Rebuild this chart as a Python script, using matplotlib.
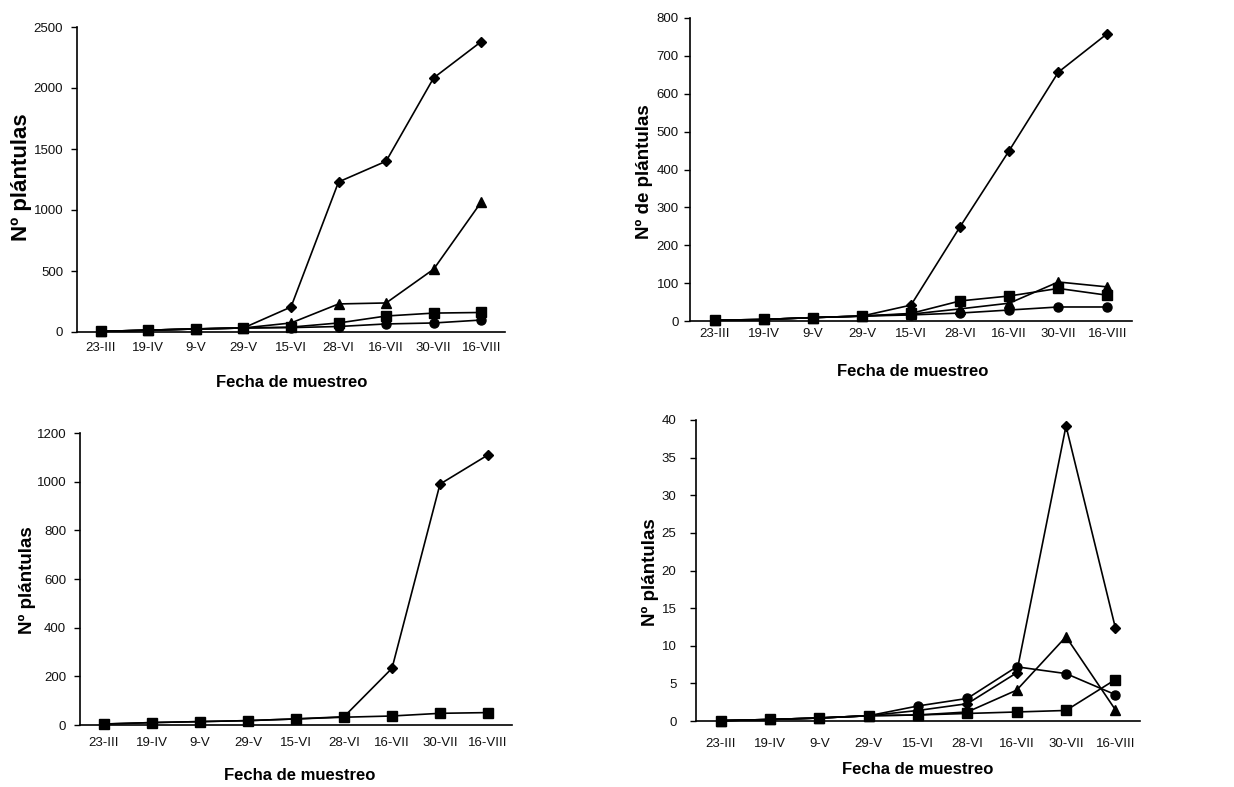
import matplotlib
matplotlib.use("Agg")
import matplotlib.pyplot as plt

plt.rcParams['font.family'] = ['Liberation Sans', 'DejaVu Sans']

fechas = ["23-III", "19-IV", "9-V", "29-V", "15-VI", "28-VI", "16-VII", "30-VII", "16-VIII"]

# Panel 1 (top-left)
p1_diamond  = [5, 15, 25, 33, 205, 1230, 1400, 2083, 2380]
p1_triangle = [5, 15, 25, 33, 74, 230, 238, 515, 1065]
p1_square   = [5, 15, 25, 33, 40, 74, 131, 155, 160]
p1_circle   = [5, 15, 25, 33, 36, 45, 66, 74, 98]

# Panel 2 (top-right)
p2_diamond  = [2, 4, 9, 13, 42, 249, 450, 657, 759]
p2_square   = [2, 4, 9, 13, 20, 53, 66, 86, 68]
p2_triangle = [2, 4, 9, 13, 18, 32, 47, 103, 90]
p2_circle   = [2, 4, 9, 13, 16, 21, 29, 37, 37]

# Panel 3 (bottom-left)
p3_diamond = [4, 10, 14, 18, 25, 34, 233, 990, 1110]
p3_square  = [4, 10, 14, 18, 25, 32, 37, 48, 51]

# Panel 4 (bottom-right)
p4_diamond  = [0.05, 0.2, 0.4, 0.7, 1.4, 2.3, 6.4, 39.2, 12.4]
p4_circle   = [0.05, 0.2, 0.4, 0.7, 2.0, 3.0, 7.2, 6.3, 3.5]
p4_triangle = [0.05, 0.2, 0.4, 0.7, 0.8, 1.2, 4.1, 11.2, 1.5]
p4_square   = [0.05, 0.2, 0.4, 0.7, 0.8, 1.0, 1.2, 1.4, 5.5]

fig = plt.figure(figsize=(12.34, 7.87), dpi=100)
W, H = 1234, 787

def make_ax(l, r, t, b):
    return fig.add_axes([l / W, 1 - b / H, (r - l) / W, (b - t) / H])

def style(ax, ymax, step, ypad, xpad):
    ax.set_xlim(-0.5, len(fechas) - 0.5)
    ax.set_ylim(0, ymax)
    ax.set_yticks(range(0, ymax + 1, step))
    ax.set_xticks(range(len(fechas)))
    ax.set_xticklabels(fechas)
    for s in ("top", "right"):
        ax.spines[s].set_visible(False)
    for s in ("left", "bottom"):
        ax.spines[s].set_linewidth(1.2)
    ax.tick_params(axis="y", length=4, width=1, pad=ypad, labelsize=9.5)
    ax.tick_params(axis="x", length=0, pad=xpad, labelsize=9.5)
    for lab in ax.get_xticklabels() + ax.get_yticklabels():
        lab.set_color("#111111")

mk = dict(color="black", lw=1.2, markerfacecolor="black", markeredgecolor="black", clip_on=False)
x = list(range(len(fechas)))

def draw(ax, series):
    for vals, m, ms in series:
        ax.plot(x, vals, marker=m, markersize=ms, **mk)

# Top-left
ax1 = make_ax(77, 505, 27, 332)
style(ax1, 2500, 500, 6, 7)
draw(ax1, [(p1_circle, "o", 6.5), (p1_square, "s", 6.5), (p1_triangle, "^", 7.5), (p1_diamond, "D", 5.5)])
fig.text(22 / W, 1 - 177 / H, "Nº plántulas", rotation=90, ha="center", va="center",
         fontsize=16, fontweight="bold")
fig.text(292 / W, 1 - 383 / H, "Fecha de muestreo", ha="center", va="center",
         fontsize=12, fontweight="bold")

# Top-right
ax2 = make_ax(690, 1132, 18, 321)
style(ax2, 800, 100, 4, 5)
draw(ax2, [(p2_circle, "o", 6.5), (p2_square, "s", 6.5), (p2_triangle, "^", 7.5), (p2_diamond, "D", 5.5)])
fig.text(644 / W, 1 - 172 / H, "Nº de plántulas", rotation=90, ha="center", va="center",
         fontsize=13.5, fontweight="bold")
fig.text(913 / W, 1 - 372 / H, "Fecha de muestreo", ha="center", va="center",
         fontsize=12, fontweight="bold")

# Bottom-left
ax3 = make_ax(80, 512, 433, 725)
style(ax3, 1200, 200, 6, 9)
draw(ax3, [(p3_square, "s", 6.5), (p3_diamond, "D", 5.5)])
fig.text(27 / W, 1 - 580 / H, "Nº plántulas", rotation=90, ha="center", va="center",
         fontsize=13.5, fontweight="bold")
fig.text(300 / W, 1 - 775 / H, "Fecha de muestreo", ha="center", va="center",
         fontsize=12, fontweight="bold")

# Bottom-right
ax4 = make_ax(696, 1140, 420, 721)
style(ax4, 40, 5, 10, 12)
draw(ax4, [(p4_square, "s", 6.5), (p4_circle, "o", 6.5), (p4_triangle, "^", 7.5), (p4_diamond, "D", 5.5)])
fig.text(650 / W, 1 - 572 / H, "Nº plántulas", rotation=90, ha="center", va="center",
         fontsize=13.5, fontweight="bold")
fig.text(918 / W, 1 - 770 / H, "Fecha de muestreo", ha="center", va="center",
         fontsize=12, fontweight="bold")

fig.savefig("out.png", dpi=100, facecolor="white")
